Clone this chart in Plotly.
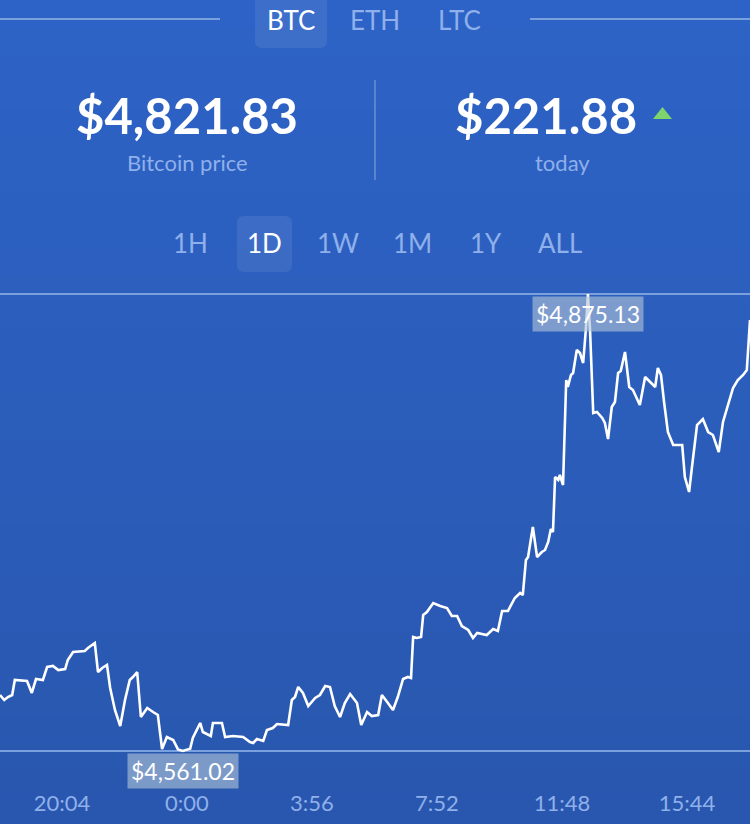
import pandas as pd
import plotly.graph_objects as go

# ---------------- data ----------------
start_time = "2017-08-14 18:07"
minutes_since_start = [
    0, 8, 15, 23, 28, 51, 60, 68, 81, 89, 100, 110, 123, 128, 138, 160, 166, 179, 185, 193,
    202, 208, 217, 227, 236, 245, 251, 259, 266, 278, 289, 298, 306, 315, 327, 336, 345, 359, 364, 378,
    383, 398, 402, 419, 425, 440, 459, 472, 478, 485, 497, 504, 515, 523, 544, 551, 557, 563, 572, 582,
    595, 604, 614, 623, 632, 642, 651, 661, 674, 682, 693, 702, 714, 721, 731, 742, 751, 761, 770, 776,
    780, 787, 795, 799, 806, 818, 831, 844, 853, 863, 872, 884, 893, 901, 919, 931, 940, 948, 959, 972,
    982, 987, 993, 997, 1006, 1014, 1023, 1029, 1035, 1040, 1044, 1048, 1054, 1057, 1063, 1069, 1072, 1078, 1082, 1089,
    1095, 1101, 1106, 1110, 1114, 1120, 1127, 1137, 1142, 1148, 1155, 1161, 1167, 1172, 1180, 1188, 1195, 1208, 1218, 1227,
    1237, 1242, 1248, 1254, 1261, 1271, 1288, 1293, 1301, 1306, 1316, 1327, 1337, 1346, 1357, 1365, 1374, 1384, 1393, 1403,
    1410, 1416,
]
prices = [
    4599.51, 4596.07, 4598.13, 4599.51, 4609.82, 4609.13, 4600.89, 4610.51, 4609.82, 4618.76,
    4619.44, 4616.69, 4617.38, 4623.57, 4629.07, 4629.75, 4631.82, 4635.25, 4615.32, 4618.07,
    4620.13, 4604.32, 4589.20, 4578.20, 4596.07, 4609.82, 4611.88, 4615.32, 4584.39, 4590.58,
    4587.83, 4585.76, 4562.40, 4570.64, 4568.58, 4562.10, 4561.02, 4562.60, 4569.96, 4580.27,
    4574.08, 4571.33, 4580.27, 4580.27, 4570.64, 4571.33, 4570.64, 4567.21, 4566.52, 4569.27,
    4567.89, 4575.45, 4576.83, 4579.58, 4578.89, 4596.07, 4598.13, 4605.01, 4600.89, 4591.95,
    4597.45, 4599.51, 4605.70, 4605.01, 4591.95, 4584.39, 4594.01, 4600.20, 4594.01, 4578.89,
    4587.83, 4585.08, 4585.76, 4599.51, 4594.70, 4589.20, 4598.13, 4610.51, 4611.88, 4611.20,
    4639.38, 4638.69, 4639.38, 4654.50, 4656.56, 4662.74, 4660.68, 4659.31, 4653.81, 4653.81,
    4646.94, 4644.19, 4638.69, 4642.12, 4640.75, 4644.87, 4643.50, 4657.25, 4657.25, 4666.18,
    4669.62, 4668.24, 4692.30, 4694.36, 4714.98, 4694.36, 4697.80, 4699.17, 4704.67, 4713.61,
    4711.55, 4749.35, 4747.29, 4750.72, 4743.85, 4816.02, 4811.21, 4819.46, 4820.83, 4836.64,
    4834.58, 4827.70, 4850.39, 4875.13, 4850.39, 4793.34, 4794.03, 4789.90, 4786.46, 4775.47,
    4797.46, 4800.90, 4820.83, 4822.21, 4835.26, 4811.21, 4809.15, 4798.84, 4818.08, 4814.64,
    4811.21, 4824.27, 4819.46, 4800.21, 4780.28, 4771.34, 4771.34, 4749.35, 4739.04, 4754.85,
    4785.09, 4789.21, 4780.28, 4778.22, 4766.53, 4787.15, 4798.84, 4810.52, 4816.02, 4819.46,
    4822.89, 4857.26,
]
window_minutes = 1416
tick_times = ["2017-08-14 20:04", "2017-08-15 00:00", "2017-08-15 03:56",
              "2017-08-15 07:52", "2017-08-15 11:48", "2017-08-15 15:44"]
tick_labels = ["20:04", "0:00", "3:56", "7:52", "11:48", "15:44"]

currencies = ["BTC", "ETH", "LTC"]
selected_currency = "BTC"
periods = ["1H", "1D", "1W", "1M", "1Y", "ALL"]
selected_period = "1D"
current_price = 4821.83
change_today = 221.88

# ---------------- figure ----------------
W, H_FIG = 750, 824
B = 50
H = H_FIG - B
FONT = "Lato"
WHITE = "#ffffff"
LIGHT = "#8fb0ea"
RULE = "#7aa0de"

def py(y):
    return 1 - y / H

def px(x):
    return x / W

times = pd.Timestamp(start_time) + pd.to_timedelta(minutes_since_start, unit="m")
pmax, pmin = max(prices), min(prices)
tmax = times[prices.index(pmax)]
tmin = times[prices.index(pmin)]
s = (pmax - pmin) / 457.0
y_range = [pmin - (H - 751) * s, pmax + 294 * s]
x_range = [pd.Timestamp(start_time), pd.Timestamp(start_time) + pd.Timedelta(minutes=window_minutes)]

fig = go.Figure()
fig.add_trace(go.Scatter(x=times, y=prices, mode="lines",
                         line=dict(color=WHITE, width=2.6), hoverinfo="skip",
                         showlegend=False))

shapes = []
# background gradient bands
top_c = (45, 99, 198)
bot_c = (41, 87, 175)
n = 30
for i in range(n):
    f = i / (n - 1)
    c = tuple(round(top_c[k] + (bot_c[k] - top_c[k]) * f) for k in range(3))
    y0 = H_FIG * i / n
    y1 = H_FIG * (i + 1) / n + 1
    shapes.append(dict(type="rect", xref="paper", yref="paper", x0=0, x1=1,
                       y0=py(y0), y1=py(y1), fillcolor="rgb(%d,%d,%d)" % c,
                       line=dict(width=0), layer="below"))

def rrect(x0, y0, x1, y1, r, fill):
    X0, X1 = px(x0), px(x1)
    Y0, Y1 = py(y0), py(y1)
    rx, ry = r / W, r / H
    path = (f"M {X0+rx},{Y0} L {X1-rx},{Y0} Q {X1},{Y0} {X1},{Y0-ry} "
            f"L {X1},{Y1+ry} Q {X1},{Y1} {X1-rx},{Y1} L {X0+rx},{Y1} "
            f"Q {X0},{Y1} {X0},{Y1+ry} L {X0},{Y0-ry} Q {X0},{Y0} {X0+rx},{Y0} Z")
    return dict(type="path", xref="paper", yref="paper", path=path,
                fillcolor=fill, line=dict(width=0), layer="below")

# header rules
shapes.append(dict(type="line", xref="paper", yref="paper", x0=0, x1=px(220),
                   y0=py(19), y1=py(19), line=dict(color=RULE, width=2)))
shapes.append(dict(type="line", xref="paper", yref="paper", x0=px(530), x1=1,
                   y0=py(19), y1=py(19), line=dict(color=RULE, width=2)))
# selection boxes
shapes.append(rrect(255, -10, 327, 48, 7, "rgba(255,255,255,0.08)"))
shapes.append(rrect(237, 216, 292, 272, 7, "rgba(255,255,255,0.08)"))
# divider
shapes.append(dict(type="line", xref="paper", yref="paper", x0=px(375), x1=px(375),
                   y0=py(80), y1=py(180), line=dict(color="#6a90d2", width=1.5)))
# green triangle
shapes.append(dict(type="path", xref="paper", yref="paper",
                   path=f"M {px(653)},{py(119)} L {px(672)},{py(119)} L {px(662.5)},{py(107)} Z",
                   fillcolor="#7fd46c", line=dict(width=0)))
# max / min reference lines
for v in (pmax, pmin):
    shapes.append(dict(type="line", xref="paper", yref="y", x0=0, x1=1, y0=v, y1=v,
                       line=dict(color=RULE, width=2), layer="below"))

ann = []
def text(x, y, t, size, color, bold=False):
    ann.append(dict(xref="paper", yref="paper", x=px(x), y=py(y), text=t,
                    showarrow=False, xanchor="center", yanchor="middle",
                    font=dict(family=FONT, size=size, color=color,
                              weight=700 if bold else 400)))

cur_x = {"BTC": 291, "ETH": 375, "LTC": 459}
for c in currencies:
    text(cur_x[c], 20, c, 26, WHITE if c == selected_currency else LIGHT)
text(187, 115, "${:,.2f}".format(current_price), 49, WHITE, bold=True)
text(187, 162, "Bitcoin price", 22, LIGHT)
text(546, 115, "${:,.2f}".format(change_today), 49, WHITE, bold=True)
text(562, 162, "today", 22, LIGHT)
per_x = [190, 264, 338, 412, 486, 560]
for p, x in zip(periods, per_x):
    text(x, 243, p, 26, WHITE if p == selected_period else LIGHT)

for t, v in ((tmax, pmax), (tmin, pmin)):
    ann.append(dict(x=t, y=v, xref="x", yref="y", text="${:,.2f}".format(v),
                    showarrow=False, yanchor="top", yshift=-2,
                    font=dict(family=FONT, size=23, color=WHITE),
                    bgcolor="rgba(176,196,214,0.62)", borderpad=3))

fig.update_layout(
    width=W, height=H_FIG,
    margin=dict(l=0, r=0, t=0, b=B),
    paper_bgcolor="#2b5dbb", plot_bgcolor="rgba(0,0,0,0)",
    shapes=shapes, annotations=ann, showlegend=False,
    xaxis=dict(range=x_range, type="date", tickvals=tick_times, ticktext=tick_labels,
               showgrid=False, zeroline=False, showline=False, ticks="",
               tickfont=dict(family=FONT, size=22, color=LIGHT), ticklabelstandoff=14,
               fixedrange=True),
    yaxis=dict(range=y_range, visible=False, fixedrange=True),
)

fig.write_html(
    "out.html",
    config={"displayModeBar": False},
    post_script="document.body.style.margin='0px';document.body.style.background='#2a59b2';document.body.style.overflow='hidden';",
)
